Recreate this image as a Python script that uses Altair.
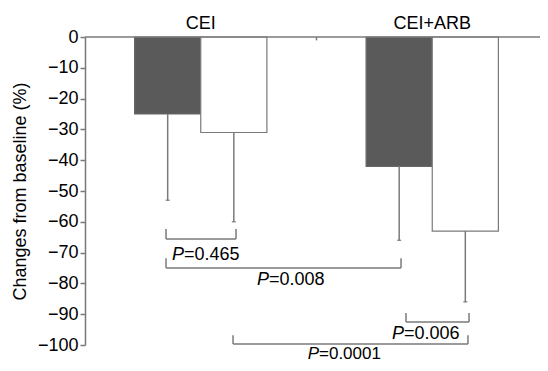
import altair as alt
import pandas as pd

# ---- data ----
groups = ["CEI", "CEI+ARB"]
series = ["dark", "white"]
means = [-25, -31, -42, -63]          # CEI dark, CEI white, CEI+ARB dark, CEI+ARB white
lower_err = [-53, -60, -66, -86]      # end of lower error bars

p_labels = ["0.465", "0.008", "0.006", "0.0001"]
br_left = [1.225, 1.225, 4.853, 2.238]
br_right = [2.283, 4.778, 5.806, 5.79]
br_level = [-65.6, -75.0, -92.5, -99.7]
br_top = [-62.3, -71.8, -89.6, -96.8]
lab_x = [1.497, 2.782, 4.823, 3.538]
lab_y = [-70.9, -78.9, -96.3, -104.5]
lab_base = ["middle", "middle", "middle", "alphabetic"]

FONT = "Liberation Sans"
LINE = "#7a7a7a"
DARK = "#5a5a5a"
XMAX = 455 / (463 / 7)

# ---- tables ----
rows = []
for gi, g in enumerate(groups):
    for si, s in enumerate(series):
        k = gi * 2 + si
        c = 1.25 + gi * 3.5 + si
        rows.append(dict(group=g, series=s, value=means[k], err=lower_err[k],
                         x0=c - 0.5, x1=c + 0.5, xc=c, cl=c - 0.03, cr=c + 0.03))
bars = pd.DataFrame(rows)

segs = []
for i in range(len(p_labels)):
    segs.append(dict(x=br_left[i], x2=br_right[i], y=br_level[i], y2=br_level[i]))
    segs.append(dict(x=br_left[i], x2=br_left[i], y=br_level[i], y2=br_top[i]))
    segs.append(dict(x=br_right[i], x2=br_right[i], y=br_level[i], y2=br_top[i]))
segs = pd.DataFrame(segs)

labs = pd.DataFrame(dict(x=lab_x, y=lab_y, p="P", rest=["=" + v for v in p_labels], b=lab_base))
grp = pd.DataFrame(dict(x=[1.75, 5.25], y=[0, 0], g=groups))
frame = pd.DataFrame(dict(x=[0.0, 3.5], x2=[XMAX, 3.5], y=[0.0, 0.0], y2=[0.0, -1.1]))

xs = alt.Scale(domain=[0, XMAX], nice=False, zero=False)
ys = alt.Scale(domain=[-100, 0], nice=False, zero=False)

yaxis = alt.Axis(values=list(range(-100, 1, 10)), title="Changes from baseline (%)",
                 labelExpr="datum.value < 0 ? '\u2212' + abs(datum.value) : '0'",
                 grid=False, domainColor=LINE, domainWidth=1.5, tickColor=LINE,
                 tickWidth=1.5, tickSize=5, labelFontSize=18, labelFont=FONT,
                 labelColor="black", labelPadding=2, titleFont=FONT, titleFontSize=18,
                 titleFontWeight="normal", titleColor="black", titlePadding=8)

X = lambda f: alt.X(f, type="quantitative", scale=xs, axis=None)
Y = lambda f: alt.Y(f, type="quantitative", scale=ys, axis=yaxis)

bar = alt.Chart(bars).mark_bar(strokeWidth=1.2).encode(
    x=X("x0"), x2="x1",
    y=Y("value"),
    y2=alt.datum(0),
    fill=alt.Fill("series:N", scale=alt.Scale(domain=series, range=[DARK, "white"]), legend=None),
    stroke=alt.Stroke("series:N", scale=alt.Scale(domain=series, range=["#666666", LINE]), legend=None),
)

err = alt.Chart(bars).mark_rule(color=LINE, strokeWidth=1.5).encode(
    x=X("xc"), y=Y("value"), y2="err")
cap = alt.Chart(bars).mark_rule(color=LINE, strokeWidth=1.2).encode(
    x=X("cl"), x2="cr", y=Y("err"))

top = alt.Chart(frame).mark_rule(color=LINE, strokeWidth=1.5).encode(
    x=X("x"), x2="x2", y=Y("y"), y2="y2")

br = alt.Chart(segs).mark_rule(color=LINE, strokeWidth=1.5).encode(
    x=X("x"), x2="x2", y=Y("y"), y2="y2")

labs_mid = labs[labs.b == "middle"]
labs_bot = labs[labs.b == "alphabetic"]

def ptext(df, baseline, size):
    p = alt.Chart(df).mark_text(align="right", baseline=baseline, font=FONT, fontSize=size,
                                fontStyle="italic", color="black").encode(
        x=X("x"), y=Y("y"), text="p:N")
    r = alt.Chart(df).mark_text(align="left", baseline=baseline, font=FONT, fontSize=size,
                                color="black").encode(
        x=X("x"), y=Y("y"), text="rest:N")
    return [p, r]

gl = alt.Chart(grp).mark_text(align="center", baseline="middle", font=FONT, fontSize=18,
                              dy=-13, color="black").encode(
    x=X("x"), y=Y("y"), text="g:N")

chart = alt.layer(bar, err, cap, top, br, *ptext(labs_mid, "middle", 18),
                  *ptext(labs_bot, "alphabetic", 17), gl).properties(
    width=455, height=308,
    autosize=alt.AutoSizeParams(type="none"),
    padding={"left": 77, "top": 29, "right": 0, "bottom": 18},
).configure_view(stroke=None)

chart.save("out.html", embed_options={"renderer": "svg", "actions": False})
